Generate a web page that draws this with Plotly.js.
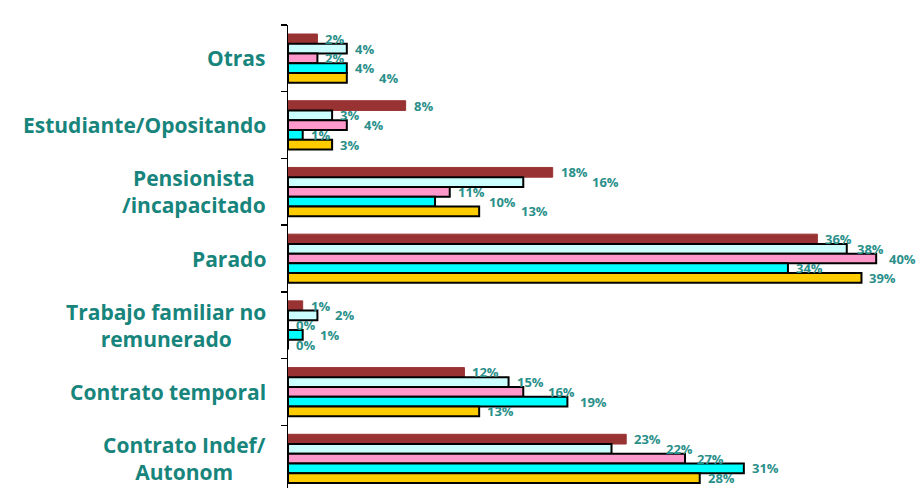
<!DOCTYPE html>
<html>
<head>
<meta charset="utf-8">
<script src="https://cdn.plot.ly/plotly-3.0.1.min.js"></script>
<style>html,body{margin:0;padding:0;background:#fff;}#chart{width:920px;height:488px;}</style>
</head>
<body>
<div id="chart"></div>
<script>
// Categories, top to bottom
var categories = ["Otras", "Estudiante/Opositando", "Pensionista<br>/incapacitado", "Parado", "Trabajo familiar no<br>remunerado", "Contrato temporal", "Contrato Indef/<br>Autonom"];

// Five series (values in %)
var serie1 = [2, 8, 18, 36, 1, 12, 23];   // dark red
var serie2 = [4, 3, 16, 38, 2, 15, 22];   // light cyan
var serie3 = [2, 4, 11, 40, 0, 16, 27];   // pink
var serie4 = [4, 1, 10, 34, 1, 19, 31];   // cyan
var serie5 = [4, 3, 13, 39, 0, 13, 28];   // yellow

var seriesValues = [serie1, serie2, serie3, serie4, serie5];
var fillColors = ["#993333", "#ccffff", "#ff99cc", "#00ffff", "#ffcc00"];
var lineColors = ["#993333", "#000000", "#000000", "#000000", "#000000"];
var lineWidths = [1, 2, 2, 2, 2];

var teal = "#17857c";
var labelTeal = "#2a8f8a";

// layout geometry
var W = 920, H = 488, ML = 288, MR = 10, MT = 25, MB = 0;
var XMAX = 42.3;
var YRANGE = [6.44, -0.5];
var BARGAP = 0.27;
var nS = seriesValues.length;
var pxPerX = (W - ML - MR) / XMAX;
var bandPx = (H - MT - MB) / Math.abs(YRANGE[0] - YRANGE[1]);
var barPx = bandPx * (1 - BARGAP) / nS;

var traces = seriesValues.map(function (vals, i) {
  return {
    type: "bar",
    orientation: "h",
    y: categories,
    x: vals,
    marker: { color: fillColors[i], line: { color: lineColors[i], width: lineWidths[i] } },
    hoverinfo: "x+y",
    showlegend: false
  };
});

var LABEL_SIZE = 13;
function labelWidth(s) { return (s.length - 1) * 7.8 + 12; }
var annotations = [];

// value labels; a label is pushed right only when it would collide with the one just above
categories.forEach(function (c, ci) {
  var prevL = null, prevR = null;
  for (var i = 0; i < nS; i++) {
    var v = seriesValues[i][ci];
    var txt = v + "%";
    var w = labelWidth(txt);
    var end = v * pxPerX;
    var left = end + 6;
    if (prevL !== null && left < prevR + 2 && left + w > prevL - 2) {
      left = prevR + 4;
    }
    prevL = left; prevR = left + w;
    annotations.push({
      xref: "x", yref: "y",
      x: v, y: c,
      xanchor: "left", yanchor: "middle",
      xshift: left - end,
      yshift: (2 - i) * barPx,
      text: "<b>" + txt + "</b>",
      showarrow: false,
      font: { family: "'Open Sans', Lato, sans-serif", size: LABEL_SIZE, color: labelTeal }
    });
  }
});

// category labels (centred multi-line)
categories.forEach(function (c) {
  annotations.push({
    xref: "paper", yref: "y",
    x: 0, y: c,
    xanchor: "right", yanchor: "middle",
    xshift: -20,
    align: "center",
    text: "<b>" + c + "</b>",
    showarrow: false,
    font: { family: "'Open Sans', Lato, sans-serif", size: 21, color: teal }
  });
});

var layout = {
  width: W, height: H,
  margin: { l: ML, r: MR, t: MT, b: MB },
  paper_bgcolor: "#ffffff",
  plot_bgcolor: "#ffffff",
  barmode: "group",
  bargap: BARGAP,
  bargroupgap: 0,
  xaxis: {
    range: [0, XMAX],
    showgrid: false, zeroline: false, showticklabels: false, ticks: "", showline: false
  },
  yaxis: {
    type: "category",
    range: YRANGE,
    showgrid: false, zeroline: false,
    showline: true, linecolor: "#000", linewidth: 1.5,
    ticks: "outside", ticklen: 6, tickcolor: "#000", tickwidth: 1.5,
    tickson: "boundaries",
    showticklabels: false
  },
  annotations: annotations
};

Plotly.newPlot("chart", traces, layout, { displayModeBar: false, staticPlot: true });
</script>
</body>
</html>
